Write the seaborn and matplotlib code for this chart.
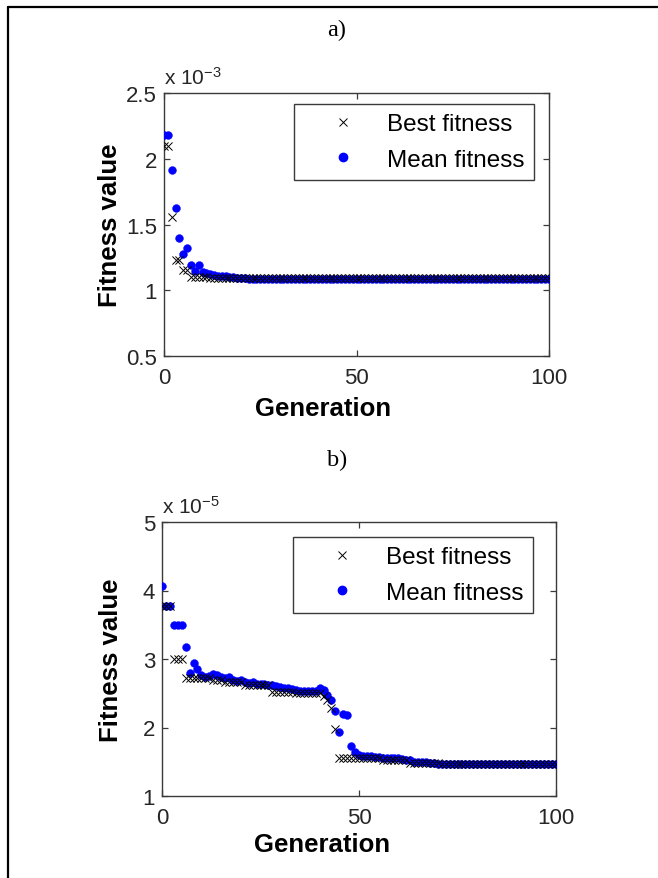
import matplotlib
matplotlib.use("Agg")
import matplotlib.pyplot as plt
import seaborn as sns
import pandas as pd
from matplotlib.lines import Line2D

# ---------------- data ----------------
generations = list(range(0, 101))

# a) fitness values in units of 1e-3
best_a = [2.10, 2.10, 1.555, 1.23, 1.23, 1.156, 1.156, 1.10, 1.10, 1.10,
          1.10, 1.10, 1.095, 1.095, 1.095, 1.093, 1.093, 1.093, 1.092, 1.092,
          1.092, 1.092, 1.092, 1.092, 1.092, 1.092, 1.092, 1.092, 1.092, 1.092,
          1.092, 1.092, 1.092, 1.092, 1.092, 1.092, 1.092, 1.092, 1.092, 1.092,
          1.092, 1.092, 1.092, 1.092, 1.092, 1.092, 1.092, 1.092, 1.092, 1.092,
          1.092, 1.092, 1.092, 1.092, 1.092, 1.092, 1.092, 1.092, 1.092, 1.092,
          1.092, 1.092, 1.092, 1.092, 1.092, 1.092, 1.092, 1.092, 1.092, 1.092,
          1.092, 1.092, 1.092, 1.092, 1.092, 1.092, 1.092, 1.092, 1.092, 1.092,
          1.092, 1.092, 1.092, 1.092, 1.092, 1.092, 1.092, 1.092, 1.092, 1.092,
          1.092, 1.092, 1.092, 1.092, 1.092, 1.092, 1.092, 1.092, 1.092, 1.092,
          1.092]
mean_a = [2.18, 2.18, 1.917, 1.623, 1.397, 1.276, 1.319, 1.194, 1.149, 1.194,
          1.14, 1.131, 1.12, 1.115, 1.11, 1.11, 1.105, 1.10, 1.10, 1.095,
          1.095, 1.092, 1.088, 1.087, 1.088, 1.087, 1.088, 1.087, 1.088, 1.087,
          1.088, 1.087, 1.088, 1.087, 1.088, 1.087, 1.088, 1.087, 1.088, 1.087,
          1.088, 1.087, 1.088, 1.087, 1.088, 1.087, 1.088, 1.087, 1.088, 1.087,
          1.088, 1.087, 1.088, 1.087, 1.088, 1.087, 1.088, 1.087, 1.088, 1.087,
          1.088, 1.087, 1.088, 1.087, 1.088, 1.087, 1.088, 1.087, 1.088, 1.087,
          1.088, 1.087, 1.088, 1.087, 1.088, 1.087, 1.088, 1.087, 1.088, 1.087,
          1.088, 1.087, 1.088, 1.087, 1.088, 1.087, 1.088, 1.087, 1.088, 1.087,
          1.088, 1.087, 1.088, 1.087, 1.088, 1.087, 1.088, 1.087, 1.088, 1.087,
          1.088]

# b) fitness values in units of 1e-5
best_b = [3.78, 3.78, 3.78, 3.00, 3.00, 3.00, 2.72, 2.72, 2.72, 2.72,
          2.72, 2.72, 2.72, 2.70, 2.70, 2.70, 2.67, 2.67, 2.67, 2.67,
          2.67, 2.62, 2.62, 2.62, 2.62, 2.62, 2.62, 2.62, 2.52, 2.52,
          2.52, 2.52, 2.52, 2.52, 2.50, 2.50, 2.50, 2.50, 2.50, 2.50,
          2.50, 2.46, 2.40, 2.28, 1.98, 1.56, 1.56, 1.56, 1.56, 1.56,
          1.55, 1.55, 1.55, 1.55, 1.55, 1.55, 1.53, 1.53, 1.53, 1.53,
          1.53, 1.53, 1.53, 1.48, 1.48, 1.48, 1.48, 1.48, 1.48, 1.48,
          1.48, 1.46, 1.46, 1.46, 1.46, 1.46, 1.46, 1.46, 1.46, 1.46,
          1.46, 1.46, 1.46, 1.46, 1.46, 1.46, 1.46, 1.46, 1.46, 1.46,
          1.46, 1.46, 1.46, 1.46, 1.46, 1.46, 1.46, 1.46, 1.46, 1.46,
          1.46]
mean_b = [4.06, 3.78, 3.78, 3.50, 3.50, 3.50, 3.17, 2.79, 2.94, 2.85,
          2.76, 2.74, 2.75, 2.78, 2.76, 2.73, 2.72, 2.74, 2.70, 2.68,
          2.69, 2.66, 2.65, 2.66, 2.64, 2.63, 2.63, 2.62, 2.62, 2.60,
          2.59, 2.58, 2.57, 2.56, 2.55, 2.54, 2.54, 2.53, 2.53, 2.54,
          2.57, 2.55, 2.47, 2.40, 2.24, 1.94, 2.20, 2.18, 1.73, 1.64,
          1.60, 1.59, 1.59, 1.58, 1.57, 1.57, 1.56, 1.56, 1.55, 1.55,
          1.55, 1.54, 1.53, 1.52, 1.50, 1.50, 1.49, 1.49, 1.48, 1.48,
          1.47, 1.46, 1.46, 1.46, 1.46, 1.46, 1.46, 1.46, 1.46, 1.46,
          1.46, 1.46, 1.46, 1.46, 1.46, 1.46, 1.46, 1.46, 1.46, 1.46,
          1.46, 1.46, 1.46, 1.46, 1.46, 1.46, 1.46, 1.46, 1.46, 1.46,
          1.46]

titles = ["a)", "b)"]
x_ticks = [0, 50, 100]
y_ticks_a = [0.5, 1, 1.5, 2, 2.5]
y_tick_labels_a = ["0.5", "1", "1.5", "2", "2.5"]
y_ticks_b = [1, 2, 3, 4, 5]
y_tick_labels_b = ["1", "2", "3", "4", "5"]
exponents = ["-3", "-5"]
legend_labels = ["Best fitness", "Mean fitness"]
x_label = "Generation"
y_label = "Fitness value"

# ---------------- style ----------------
sns.set_theme(style="ticks")
plt.rcParams["font.family"] = ["Liberation Sans", "DejaVu Sans"]
plt.rcParams["mathtext.default"] = "regular"

W, H = 658, 879
fig = plt.figure(figsize=(W / 100, H / 100), dpi=100)
fig.patch.set_facecolor("white")

# axes positions (pixels: left, top, right, bottom)
boxes = [(164, 94, 549, 357), (162, 523, 556, 797)]
axes = []
for (l, t, r, b) in boxes:
    ax = fig.add_axes([l / W, 1 - b / H, (r - l) / W, (b - t) / H])
    axes.append(ax)

spine_col = "#3a3a3a"
text_col = "#262626"

datasets = [
    (best_a, mean_a, y_ticks_a, y_tick_labels_a, (0.5, 2.5), (0.338, 0.958),
     -0.109, (0.413, -0.153)),
    (best_b, mean_b, y_ticks_b, y_tick_labels_b, (1, 5), (0.332, 0.945),
     -0.100, (0.406, -0.130)),
]

for i, ax in enumerate(axes):
    best, mean, yt, ytl, ylim, legpos, ylx, xlc = datasets[i]
    df = pd.DataFrame({"Generation": generations, "best": best, "mean": mean})
    sns.scatterplot(data=df, x="Generation", y="mean", ax=ax, marker="o",
                    color="#0000ff", edgecolor="#0000ff", linewidth=0.3, s=32,
                    zorder=3, legend=False)
    sns.scatterplot(data=df, x="Generation", y="best", ax=ax, marker="x",
                    color="black", linewidth=0.7, s=34, zorder=4, legend=False)
    ax.set_xlim(0, 100)
    ax.set_ylim(*ylim)
    ax.set_xticks(x_ticks)
    ax.set_xticklabels([str(v) for v in x_ticks])
    ax.set_yticks(yt)
    ax.set_yticklabels(ytl)
    ax.tick_params(direction="in", length=4, width=0.9, color=spine_col,
                   labelsize=16, labelcolor=text_col, top=True, right=True)
    ax.tick_params(axis="x", pad=8)
    ax.tick_params(axis="y", pad=5)
    for sp in ax.spines.values():
        sp.set_visible(True)
        sp.set_color(spine_col)
        sp.set_linewidth(1.0)
    ax.set_xlabel(x_label, fontsize=18.5, fontweight="bold", color="black")
    ax.set_ylabel(y_label, fontsize=18.5, fontweight="bold", color="black")
    ax.yaxis.set_label_coords(ylx, 0.5)
    ax.xaxis.set_label_coords(*xlc)
    ax.text(0.0, 1.02, "x 10$^{" + exponents[i] + "}$", transform=ax.transAxes,
            fontsize=15, color=text_col, ha="left", va="bottom")

    handles = [
        Line2D([], [], linestyle="", marker="x", color="black",
               markersize=5.5, markeredgewidth=0.7),
        Line2D([], [], linestyle="", marker="o", color="#0000ff",
               markersize=6),
    ]
    leg = ax.legend(handles, legend_labels, loc="upper left",
                    bbox_to_anchor=legpos, borderaxespad=0, frameon=True,
                    fancybox=False, shadow=False, framealpha=1,
                    edgecolor=spine_col, fontsize=17.5, handlelength=3.3,
                    handletextpad=0.15, borderpad=0.38, labelspacing=0.55)
    leg.get_frame().set_linewidth(1.0)
    for txt in leg.get_texts():
        txt.set_color("black")

# panel titles
fig.text(337 / W, 1 - 30 / H, titles[0], family=["Liberation Serif"],
         fontsize=17.5, ha="center", va="center", color="black")
fig.text(337 / W, 1 - 460 / H, titles[1], family=["Liberation Serif"],
         fontsize=17.5, ha="center", va="center", color="black")

# outer frame (top and left borders)
fig.add_artist(Line2D([8 / W, 1.0], [1 - 8 / H, 1 - 8 / H],
                      transform=fig.transFigure, color="black", linewidth=1.6))
fig.add_artist(Line2D([8 / W, 8 / W], [1 - 8 / H, 0.0],
                      transform=fig.transFigure, color="black", linewidth=1.6))

fig.savefig("out.png", dpi=100, facecolor="white")
